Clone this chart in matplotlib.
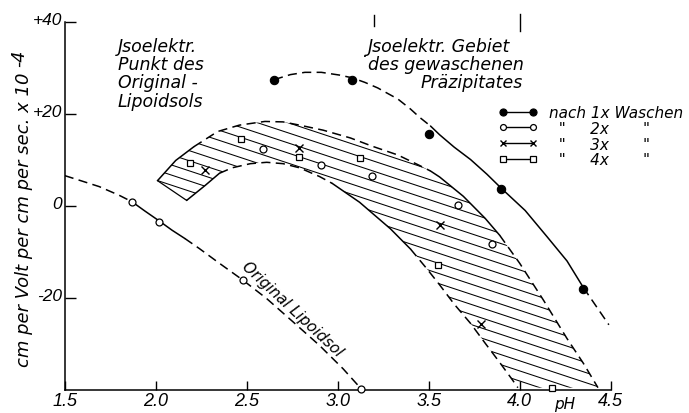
import numpy as np
from matplotlib import pyplot as plt
from matplotlib.lines import Line2D
from matplotlib.patches import Polygon
from matplotlib.transforms import ScaledTranslation

W, H = 689, 414

text_font = 'DejaVu Sans'
tick_font = 'Liberation Sans'

# Original Lipoidsol (messpunkte + kurve)
orig_ph = [1.87, 2.02, 2.48, 3.13]
orig_v = [0.9, -3.6, -16.2, -39.8]
orig_curve_ph = [1.50, 1.58, 1.69, 1.80, 1.87, 1.94, 2.02, 2.09, 2.16, 2.24, 2.35,
                 2.48, 2.61, 2.75, 2.90, 3.03, 3.13]
orig_curve_v = [6.6, 5.6, 4.2, 2.3, 0.9, -1.1, -3.3, -5.3, -7.1, -9.3, -12.5,
                -16.2, -20.2, -25.1, -30.4, -35.5, -39.9]

# nach 1x Waschen
w1_ph = [2.65, 3.08, 3.50, 3.90, 4.35]
w1_v = [27.5, 27.5, 15.6, 3.6, -18.2]
w1_curve_ph = [2.65, 2.74, 2.82, 2.91, 3.01, 3.08, 3.15, 3.22, 3.27, 3.33, 3.40, 3.45,
               3.51, 3.56, 3.64, 3.73, 3.82, 3.90, 4.03, 4.15, 4.26, 4.35, 4.49]
w1_curve_v = [27.5, 28.6, 29.1, 29.1, 28.5, 27.9, 26.9, 25.7, 24.6, 23.3, 21.1, 19.3,
              17.4, 15.5, 12.8, 10.1, 6.9, 3.8, -1.0, -6.7, -12.0, -17.8, -25.9]

# nach 2x, 3x, 4x Waschen
w2_ph = [2.59, 2.91, 3.19, 3.66, 3.85]
w2_v = [12.4, 9.0, 6.5, 0.1, -8.2]
w3_ph = [2.27, 2.79, 3.56, 3.79]
w3_v = [7.9, 12.6, -4.2, -25.7]
w4_ph = [2.19, 2.47, 2.79, 3.12, 3.55, 4.18]
w4_v = [9.3, 14.6, 10.6, 10.4, -12.8, -39.6]

# Grenzen des schraffierten Gebietes
upper_ph = [2.01, 2.11, 2.21, 2.34, 2.46, 2.60, 2.70, 2.79, 2.92, 3.07, 3.19, 3.33,
            3.45, 3.51, 3.56, 3.69, 3.81, 3.89, 4.00, 4.13, 4.26, 4.35, 4.43]
upper_v = [5.5, 9.9, 12.9, 16.2, 17.6, 18.4, 18.3, 17.6, 16.5, 14.8, 13.0, 11.1,
           8.8, 7.6, 6.3, 2.1, -2.7, -6.4, -12.5, -20.5, -28.9, -34.3, -39.6]
lower_ph = [2.17, 2.27, 2.35, 2.42, 2.52, 2.61, 2.70, 2.79, 2.90, 2.97, 3.12,
            3.29, 3.40, 3.49, 3.56, 3.64, 3.73, 3.81, 3.89, 3.96, 3.99]
lower_v = [1.2, 4.4, 7.1, 8.3, 9.2, 9.5, 9.2, 8.3, 6.4, 4.9, 0.8,
           -5.0, -9.4, -13.7, -17.2, -21.4, -25.6, -29.9, -34.1, -37.9, -39.6]

# isoelektrisches Gebiet des gewaschenen Praezipitates
iso_region = [3.2, 4.0]

x_ticks = [1.5, 2.0, 2.5, 3.0, 3.5, 4.0, 4.5]
x_labels = ['1.5', '2.0', '2.5', '3.0', '3.5', '4.0', '4.5']
y_ticks = [-20, 0, 20, 40]
y_labels = ['-20', '0', '+20', '+40']

dash = (6, 3.5)
lw = 1.1


def piece(ax, xs, ys, i0, i1, dashed):
    ln, = ax.plot(xs[i0:i1 + 1], ys[i0:i1 + 1], color='k', lw=lw, solid_capstyle='round',
                  solid_joinstyle='round')
    if dashed:
        ln.set_dashes(dash)
    return ln


def fxy(px, py):
    return px / W, 1 - py / H


fig = plt.figure(figsize=(W / 100, H / 100), dpi=100)
ax = fig.add_axes([64.7 / W, 1 - 390.5 / H, (610.7 - 64.7) / W, (390.5 - 23.3) / H])
ax.set_xlim(1.5, 4.5)
ax.set_ylim(-40, 40)
for s in ['top', 'right']:
    ax.spines[s].set_visible(False)
for s in ['left', 'bottom']:
    ax.spines[s].set_linewidth(1.1)

# schraffur
band = Polygon(np.column_stack([upper_ph + lower_ph[::-1], upper_v + lower_v[::-1]]),
               closed=True, facecolor='none', edgecolor='none')
ax.add_patch(band)
for c in np.arange(-34, 60, 2.2):
    hl, = ax.plot([1.5, 4.5], [c, c - 13.1 * 3.0], color='k', lw=0.75)
    hl.set_clip_path(band)

# Rand des Gebietes
piece(ax, upper_ph, upper_v, 0, 2, False)
piece(ax, upper_ph, upper_v, 2, 13, True)
piece(ax, upper_ph, upper_v, 13, 17, False)
piece(ax, upper_ph, upper_v, 17, 22, True)
piece(ax, lower_ph, lower_v, 0, 2, False)
piece(ax, lower_ph, lower_v, 2, 9, True)
piece(ax, lower_ph, lower_v, 9, 12, False)
piece(ax, lower_ph, lower_v, 12, 20, True)
ax.plot([lower_ph[0], upper_ph[0]], [lower_v[0], upper_v[0]], color='k', lw=0.9)

# Original Lipoidsol
piece(ax, orig_curve_ph, orig_curve_v, 0, 4, True)
piece(ax, orig_curve_ph, orig_curve_v, 4, 8, False)
piece(ax, orig_curve_ph, orig_curve_v, 8, 16, True)
ax.plot(orig_ph, orig_v, ls='none', marker='o', ms=5, mfc='white', mec='k', mew=0.9,
        clip_on=False, zorder=4)

# 1x gewaschen
piece(ax, w1_curve_ph, w1_curve_v, 0, 12, True)
piece(ax, w1_curve_ph, w1_curve_v, 12, 21, False)
piece(ax, w1_curve_ph, w1_curve_v, 21, 22, True)

st1 = dict(marker='o', ms=6, mfc='k', mec='k', mew=0.8, color='k')
st2 = dict(marker='o', ms=5, mfc='white', mec='k', mew=0.9, color='k')
st3 = dict(marker='x', ms=5.5, mec='k', mew=1.0, color='k')
st4 = dict(marker='s', ms=5, mfc='white', mec='k', mew=0.9, color='k')
ax.plot(w1_ph, w1_v, ls='none', clip_on=False, zorder=4, **st1)
ax.plot(w2_ph, w2_v, ls='none', clip_on=False, zorder=4, **st2)
ax.plot(w3_ph, w3_v, ls='none', clip_on=False, zorder=4, **st3)
ax.plot(w4_ph, w4_v, ls='none', clip_on=False, zorder=4, **st4)

# Grenzen isoelektr. Gebiet oben
ax.plot([iso_region[0]] * 2, [39.1, 41.5], color='k', lw=1.0, clip_on=False)
ax.plot([iso_region[1]] * 2, [38.0, 41.7], color='k', lw=1.0, clip_on=False)

ax.set_xticks(x_ticks)
ax.set_xticklabels(x_labels, fontfamily=tick_font, style='italic', fontsize=13)
ax.set_yticks(y_ticks)
ax.set_yticklabels(y_labels, fontfamily=tick_font, style='italic', fontsize=12.5)
ax.tick_params(axis='x', direction='in', length=6.5, width=1.0, pad=2)
ax.tick_params(axis='y', direction='in', length=8, width=1.0, pad=2)
# y-Beschriftung etwas hoeher setzen
lift = ScaledTranslation(0, 4 / 100, fig.dpi_scale_trans)
for t in ax.get_yticklabels():
    t.set_transform(t.get_transform() + lift)

tkw = dict(fontfamily=text_font, style='italic', color='k')

# Beschriftungen
for s, py in zip(["Jsoelektr.", "Punkt des", "Original -", "Lipoidsols"], [47, 65, 83, 102]):
    fig.text(*fxy(118, py), s, ha='left', va='center', fontsize=12.5, **tkw)
fig.text(*fxy(368, 47), "Jsoelektr. Gebiet", ha='left', va='center', fontsize=12.5, **tkw)
fig.text(*fxy(368, 65), "des gewaschenen", ha='left', va='center', fontsize=12.5, **tkw)
fig.text(*fxy(523, 83), "Präzipitates", ha='right', va='center', fontsize=12.5, **tkw)
fig.text(*fxy(365, 52), ".", ha='center', va='center', fontsize=12, **tkw)

fig.text(*fxy(292, 309), "Original Lipoidsol", ha='center', va='center', rotation=-43,
         rotation_mode='anchor', fontsize=11, **tkw)
fig.text(*fxy(565, 405), "pH", ha='center', va='center', fontsize=11, **tkw)

fig.text(*fxy(24, 367), "cm per Volt per cm per sec. x 10", rotation=90, ha='center', va='bottom',
         fontsize=13, **tkw)
fig.text(*fxy(19, 58), "-4", rotation=90, ha='center', va='center', fontsize=12.5, **tkw)

# Legende
handles = [Line2D([], [], ls='-', lw=1.0, **st1), Line2D([], [], ls='-', lw=1.0, **st2),
           Line2D([], [], ls='-', lw=1.0, **st3), Line2D([], [], ls='-', lw=1.0, **st4)]
labels = ['nach 1x Waschen', '  "     2x       "', '  "     3x       "', '  "     4x       "']
leg = ax.legend(handles, labels, loc='upper left', bbox_to_anchor=fxy(498, 106),
                bbox_transform=fig.transFigure, frameon=False, numpoints=2,
                handlelength=2.56, handletextpad=0.75, labelspacing=0.05,
                borderpad=0, borderaxespad=0, markerscale=0.85,
                prop=dict(family=text_font, style='italic', size=11))

fig.savefig('out.png', dpi=100)
